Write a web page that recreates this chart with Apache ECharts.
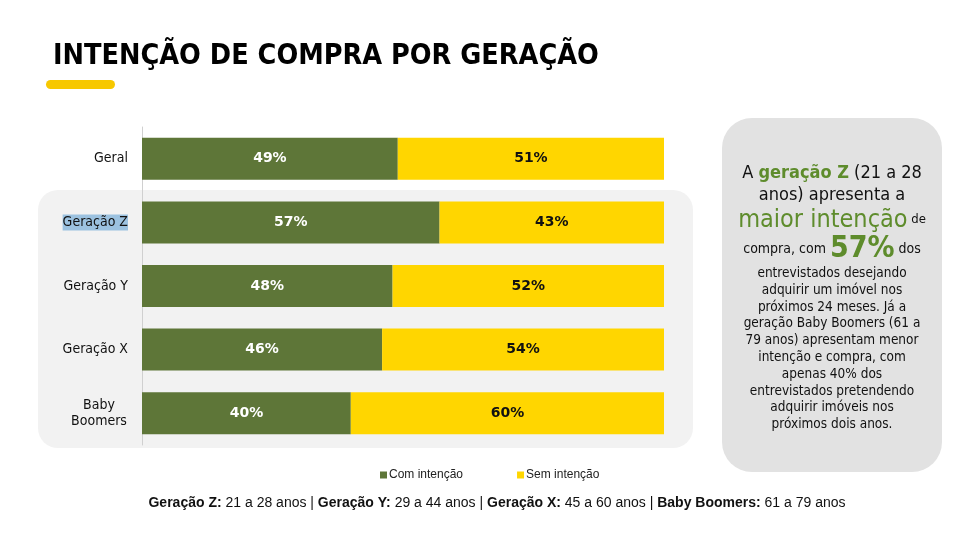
<!DOCTYPE html>
<html>
<head>
<meta charset="utf-8">
<script src="https://cdn.jsdelivr.net/npm/echarts@6/dist/echarts.min.js"></script>
<style>
html,body{margin:0;padding:0;background:#fff;}
#c{width:958px;height:535px;}
</style>
</head>
<body>
<div id="c"></div>
<script>
var categories = ['Geral', 'Geração Z', 'Geração Y', 'Geração X', 'Baby\nBoomers'];
var comIntencao = [49, 57, 48, 46, 40];
var semIntencao = [51, 43, 52, 54, 60];
var seriesNames = ['Com intenção', 'Sem intenção'];

var GREEN = '#5e7638';
var YELLOW = '#ffd600';
var HL = '#5e8c2c';
var labelFont = 'DejaVu Sans Condensed, DejaVu Sans, sans-serif';

var chart = echarts.init(document.getElementById('c'));
chart.setOption({
  backgroundColor: '#ffffff',
  animation: false,
  graphic: [
    { type: 'rect', z: -10, shape: { x: 38, y: 190, width: 655, height: 258, r: 20 }, style: { fill: '#f2f2f2' } },
    { type: 'rect', z: -10, shape: { x: 722, y: 118, width: 220, height: 354, r: 30 }, style: { fill: '#e2e2e2' } },
    { type: 'rect', z: -10, shape: { x: 46, y: 80, width: 69, height: 9, r: 4.5 }, style: { fill: '#f7c800' } },
    { type: 'text', left: 53, top: 42, z: 10, style: {
        text: 'INTENÇÃO DE COMPRA POR GERAÇÃO',
        font: 'bold 28.5px "DejaVu Sans Condensed", "DejaVu Sans", sans-serif',
        fill: '#000', textShadowColor: 'rgba(230,170,0,0.8)', textShadowOffsetX: 1, textShadowOffsetY: 1, textShadowBlur: 0
    } },
    { type: 'text', z: 10, x: 832, y: 162, style: {
        align: 'center', verticalAlign: 'top',
        text: [
          '{a|A }{g|geração Z}{a| (21 a 28}',
          '{a|anos) apresenta a}',
          '{big|maior intenção}{s| de}',
          '{b|compra, com }{pct|57%}{b| dos}',
          '{n|entrevistados desejando}',
          '{n|adquirir um imóvel nos}',
          '{n|próximos 24 meses. Já a}',
          '{n|geração Baby Boomers (61 a}',
          '{n|79 anos) apresentam menor}',
          '{n|intenção e compra, com}',
          '{n|apenas 40% dos}',
          '{n|entrevistados pretendendo}',
          '{n|adquirir imóveis nos}',
          '{n|próximos dois anos.}'
        ].join('\n'),
        rich: {
          a: { fontFamily: labelFont, fontSize: 18, lineHeight: 22, fill: '#111' },
          g: { fontFamily: labelFont, fontSize: 18, fontWeight: 'bold', lineHeight: 22, fill: HL },
          big: { fontFamily: labelFont, fontSize: 25, lineHeight: 28, fill: HL },
          s: { fontFamily: labelFont, fontSize: 13, lineHeight: 28, fill: '#111' },
          b: { fontFamily: labelFont, fontSize: 14, lineHeight: 31, fill: '#111' },
          pct: { fontFamily: labelFont, fontSize: 30, fontWeight: 'bold', lineHeight: 31, fill: HL },
          n: { fontFamily: labelFont, fontSize: 13.5, lineHeight: 16.8, fill: '#111' }
        }
    } },
    { type: 'text', z: 10, x: 497, y: 496, style: {
        align: 'center', verticalAlign: 'top',
        text: '{bo|Geração Z:}{r| 21 a 28 anos | }{bo|Geração Y:}{r| 29 a 44 anos | }{bo|Geração X:}{r| 45 a 60 anos | }{bo|Baby Boomers:}{r| 61 a 79 anos}',
        rich: {
          bo: { fontFamily: 'Liberation Sans, Arial, sans-serif', fontSize: 14, fontWeight: 'bold', fill: '#111' },
          r: { fontFamily: 'Liberation Sans, Arial, sans-serif', fontSize: 14, fill: '#111' }
        }
    } }
  ],
  legend: {
    data: seriesNames,
    left: 375, top: 464,
    icon: 'rect', itemWidth: 7, itemHeight: 7, itemGap: 54,
    textStyle: { fontFamily: 'Liberation Sans Narrow, Liberation Sans, Arial, sans-serif', fontSize: 12, color: '#222', padding: [0,0,0,-3] }
  },
  grid: { left: 142, right: 294, top: 127, bottom: 90, containLabel: false },
  xAxis: { type: 'value', min: 0, max: 100, show: false },
  yAxis: {
    type: 'category', data: categories, inverse: true,
    axisLine: { show: true, lineStyle: { color: '#d0d0d0', width: 1 } },
    axisTick: { show: false },
    axisLabel: {
      margin: 14, fontFamily: labelFont, fontSize: 14, color: '#111', align: 'right',
      formatter: function (v) {
        if (v === 'Geração Z') return '{hl|' + v + '}';
        if (v.indexOf('\n') >= 0) {
          return v.split('\n').map(function (s) { return '{bb|' + s + '}'; }).join('\n');
        }
        return v;
      },
      rich: {
        hl: { backgroundColor: '#9cc2e0', fontFamily: labelFont, fontSize: 14, color: '#111', padding: [1,0,1,0] },
        bb: { width: 58, align: 'center', fontFamily: labelFont, fontSize: 14, color: '#111', lineHeight: 16 }
      },
      lineHeight: 16
    }
  },
  series: [
    { name: seriesNames[0], type: 'bar', stack: 't', data: comIntencao, barWidth: 42,
      itemStyle: { color: GREEN },
      label: { show: true, position: 'inside', formatter: '{c}%', color: '#fff', fontWeight: 'bold', fontSize: 14, fontFamily: 'DejaVu Sans, sans-serif' } },
    { name: seriesNames[1], type: 'bar', stack: 't', data: semIntencao, barWidth: 42,
      itemStyle: { color: YELLOW },
      label: { show: true, position: 'inside', formatter: '{c}%', color: '#111', fontWeight: 'bold', fontSize: 14, fontFamily: 'DejaVu Sans, sans-serif' } }
  ]
});
</script>
</body>
</html>
